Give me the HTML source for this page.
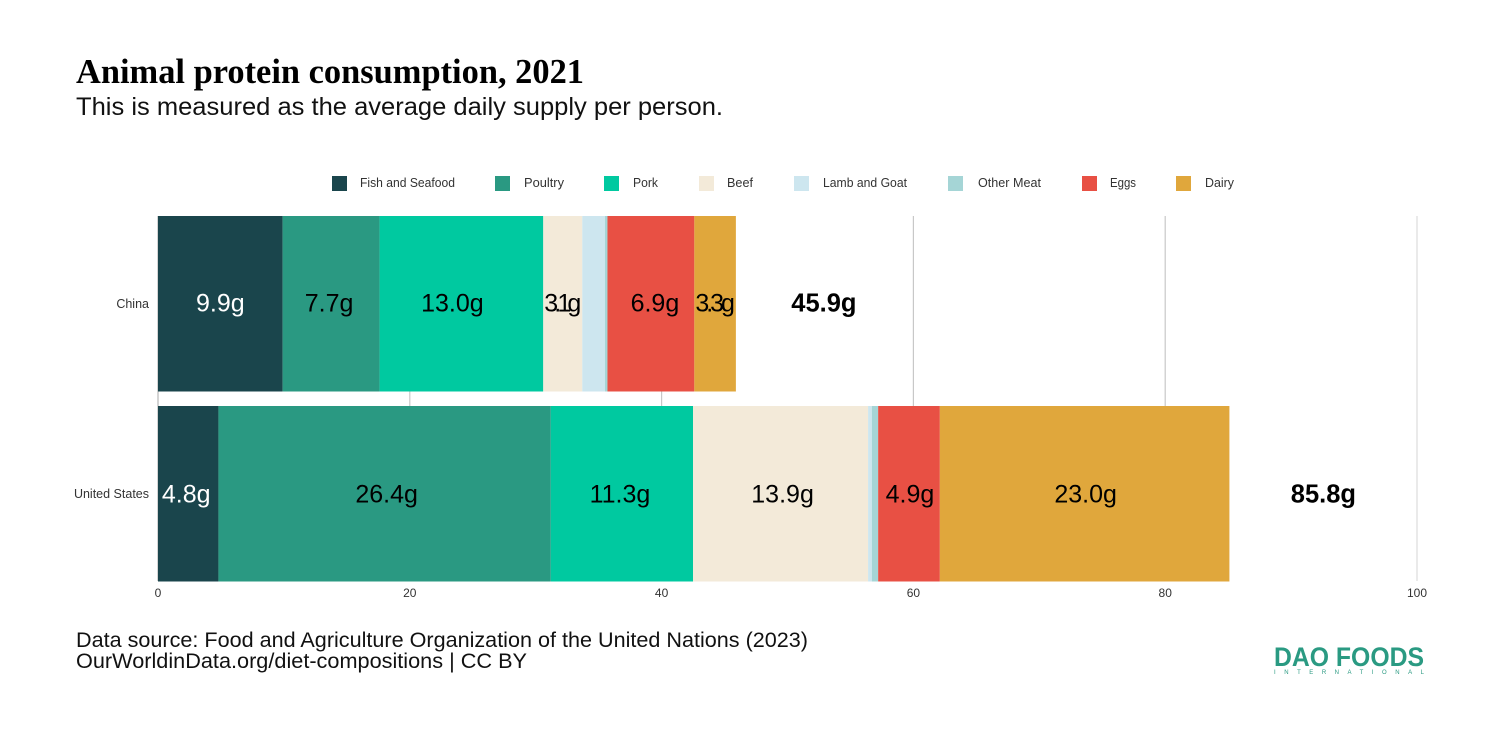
<!DOCTYPE html>
<html lang="en">
<head>
<meta charset="utf-8">
<title>Animal protein consumption, 2021</title>
<style>
  html, body { margin: 0; padding: 0; background: #fff; }
  #chart { display: block; width: 1500px; height: 750px; font-family: "Liberation Sans", sans-serif; }
</style>
</head>
<body>
<svg id="chart" xmlns="http://www.w3.org/2000/svg" width="1500" height="750" viewBox="0 0 1500 750">
  <rect x="0" y="0" width="1500" height="750" fill="#ffffff"/>
  <text x="76" y="83" font-family="'Liberation Serif', serif" font-weight="700" font-size="35" fill="#000" textLength="508" lengthAdjust="spacingAndGlyphs">Animal protein consumption, 2021</text>
  <text x="76" y="115" font-size="25" fill="#111" textLength="647" lengthAdjust="spacingAndGlyphs">This is measured as the average daily supply per person.</text>

  <g id="grid"></g>
  <g id="bars"></g>
  <g id="labels"></g>
  <g id="axes"></g>

  <g font-size="12.5" fill="#333">
    <g><rect x="332" y="176" width="15" height="15" fill="#1a454c"/><text x="360" y="187" textLength="95" lengthAdjust="spacingAndGlyphs">Fish and Seafood</text></g>
    <g><rect x="495" y="176" width="15" height="15" fill="#2a9982"/><text x="524" y="187" textLength="40" lengthAdjust="spacingAndGlyphs">Poultry</text></g>
    <g><rect x="604" y="176" width="15" height="15" fill="#00c9a0"/><text x="633" y="187" textLength="25" lengthAdjust="spacingAndGlyphs">Pork</text></g>
    <g><rect x="699" y="176" width="15" height="15" fill="#f3ead9"/><text x="727" y="187" textLength="26" lengthAdjust="spacingAndGlyphs">Beef</text></g>
    <g><rect x="794" y="176" width="15" height="15" fill="#cde6ef"/><text x="823" y="187" textLength="84" lengthAdjust="spacingAndGlyphs">Lamb and Goat</text></g>
    <g><rect x="948" y="176" width="15" height="15" fill="#a5d5d6"/><text x="978" y="187" textLength="63" lengthAdjust="spacingAndGlyphs">Other Meat</text></g>
    <g><rect x="1082" y="176" width="15" height="15" fill="#e85044"/><text x="1110" y="187" textLength="26" lengthAdjust="spacingAndGlyphs">Eggs</text></g>
    <g><rect x="1176" y="176" width="15" height="15" fill="#e0a73c"/><text x="1205" y="187" textLength="29" lengthAdjust="spacingAndGlyphs">Dairy</text></g>
  </g>

  <text x="76" y="647" font-size="21" fill="#111" textLength="732" lengthAdjust="spacingAndGlyphs">Data source: Food and Agriculture Organization of the United Nations (2023)</text>
  <text x="76" y="668" font-size="21" fill="#111" textLength="451" lengthAdjust="spacingAndGlyphs">OurWorldinData.org/diet-compositions | CC BY</text>

  <g fill="#2a9a82">
    <text x="1274" y="666" font-size="27" font-weight="700" textLength="150" lengthAdjust="spacingAndGlyphs">DAO FOODS</text>
    <text x="1274" y="674" font-size="6" font-weight="400" textLength="150" lengthAdjust="spacing">INTERNATIONAL</text>
  </g>
</svg>

<script>
const categories = ['China', 'United States'];
const fishAndSeafood = [9.9, 4.8];
const poultry = [7.7, 26.4];
const pork = [13.0, 11.3];
const beef = [3.1, 13.9];
const lambAndGoat = [1.8, 0.3];
const otherMeat = [0.2, 0.5];
const eggs = [6.9, 4.9];
const dairy = [3.3, 23.0];
const totals = [45.9, 85.8];
const xTickLabels = [0, 20, 40, 60, 80, 100];

const seriesList = [
  { key: 'fish-and-seafood', values: fishAndSeafood, color: '#1a454c', text: '#ffffff', labelled: true },
  { key: 'poultry', values: poultry, color: '#2a9982', text: '#000000', labelled: true },
  { key: 'pork', values: pork, color: '#00c9a0', text: '#000000', labelled: true },
  { key: 'beef', values: beef, color: '#f3ead9', text: '#000000', labelled: true },
  { key: 'lamb-and-goat', values: lambAndGoat, color: '#cde6ef', text: '#000000', labelled: false },
  { key: 'other-meat', values: otherMeat, color: '#a5d5d6', text: '#000000', labelled: false },
  { key: 'eggs', values: eggs, color: '#e85044', text: '#000000', labelled: true },
  { key: 'dairy', values: dairy, color: '#e0a73c', text: '#000000', labelled: true }
];

const NS = 'http://www.w3.org/2000/svg';
const plotLeft = 158;
const plotRight = 1417;
const plotTop = 216;
const plotBottom = 581;
const rowTop = [216, 406];
const rowHeight = 175.5;

function xScale(v) {
  return plotLeft + (v / 100) * (plotRight - plotLeft);
}
function yCenter(i) {
  return rowTop[i] + rowHeight / 2;
}
function make(tag, attrs, parent) {
  const el = document.createElementNS(NS, tag);
  Object.keys(attrs).forEach(function (k) { el.setAttribute(k, attrs[k]); });
  parent.appendChild(el);
  return el;
}
function labelNudge(key, row) {
  if (row === 0) {
    if (key === 'pork') return -9;
    if (key === 'eggs') return 4;
    if (key === 'poultry') return -2;
    return 0;
  }
  if (key === 'fish-and-seafood') return -2;
  if (key === 'poultry' || key === 'beef') return 2;
  if (key === 'pork') return -2;
  return 1;
}

const gridLayer = document.getElementById('grid');
const barLayer = document.getElementById('bars');
const labelLayer = document.getElementById('labels');
const axisLayer = document.getElementById('axes');

xTickLabels.forEach(function (t) {
  if (t > 0) {
    const line = make('line', { x1: xScale(t), x2: xScale(t), y1: plotTop, y2: plotBottom, stroke: t === 100 ? '#dddddd' : '#c8c8c8', 'stroke-width': 1.2 }, gridLayer);
    
    
  }
  const tick = make('text', { x: xScale(t), y: 597, 'text-anchor': 'middle', 'font-size': 12, fill: '#333333' }, axisLayer);
  tick.textContent = String(t);
  
  
});

const axisLine = make('line', { x1: plotLeft, x2: plotLeft, y1: plotTop, y2: plotBottom, stroke: '#a8a8a8', 'stroke-width': 1 }, gridLayer);



categories.forEach(function (cat, i) {
  const catLabel = make('text', { x: 149, y: yCenter(i) + 4, 'text-anchor': 'end', 'font-size': 12.5, fill: '#333333' }, axisLayer);
  catLabel.textContent = cat;
  
  

  let running = 0;
  seriesList.forEach(function (s) {
    const v = s.values[i];
    const x0 = xScale(running);
    const x1 = xScale(running + v);
    running += v;

    const seg = make('rect', { x: x0, y: rowTop[i], width: x1 - x0, height: rowHeight, fill: s.color }, barLayer);
    
    

    if (s.labelled) {
      const attrs = { x: (x0 + x1) / 2 + labelNudge(s.key, i), y: yCenter(i) + 7.5 + i, 'text-anchor': 'middle', 'font-size': 25, fill: s.text };
      if (v < 3.5) {
        attrs.textLength = x1 - x0 - 2;
        attrs.lengthAdjust = 'spacing';
      }
      const label = make('text', attrs, labelLayer);
      label.textContent = v.toFixed(1) + 'g';
      
      
    }
  });

  const total = make('text', { x: xScale(running) + (i === 0 ? 88 : 94), y: yCenter(i) + 7.5 + i, 'text-anchor': 'middle', 'font-size': 25.5, 'font-weight': 700, fill: '#000000' }, labelLayer);
  total.textContent = totals[i].toFixed(1) + 'g';
  
  
});
</script>
</body>
</html>
